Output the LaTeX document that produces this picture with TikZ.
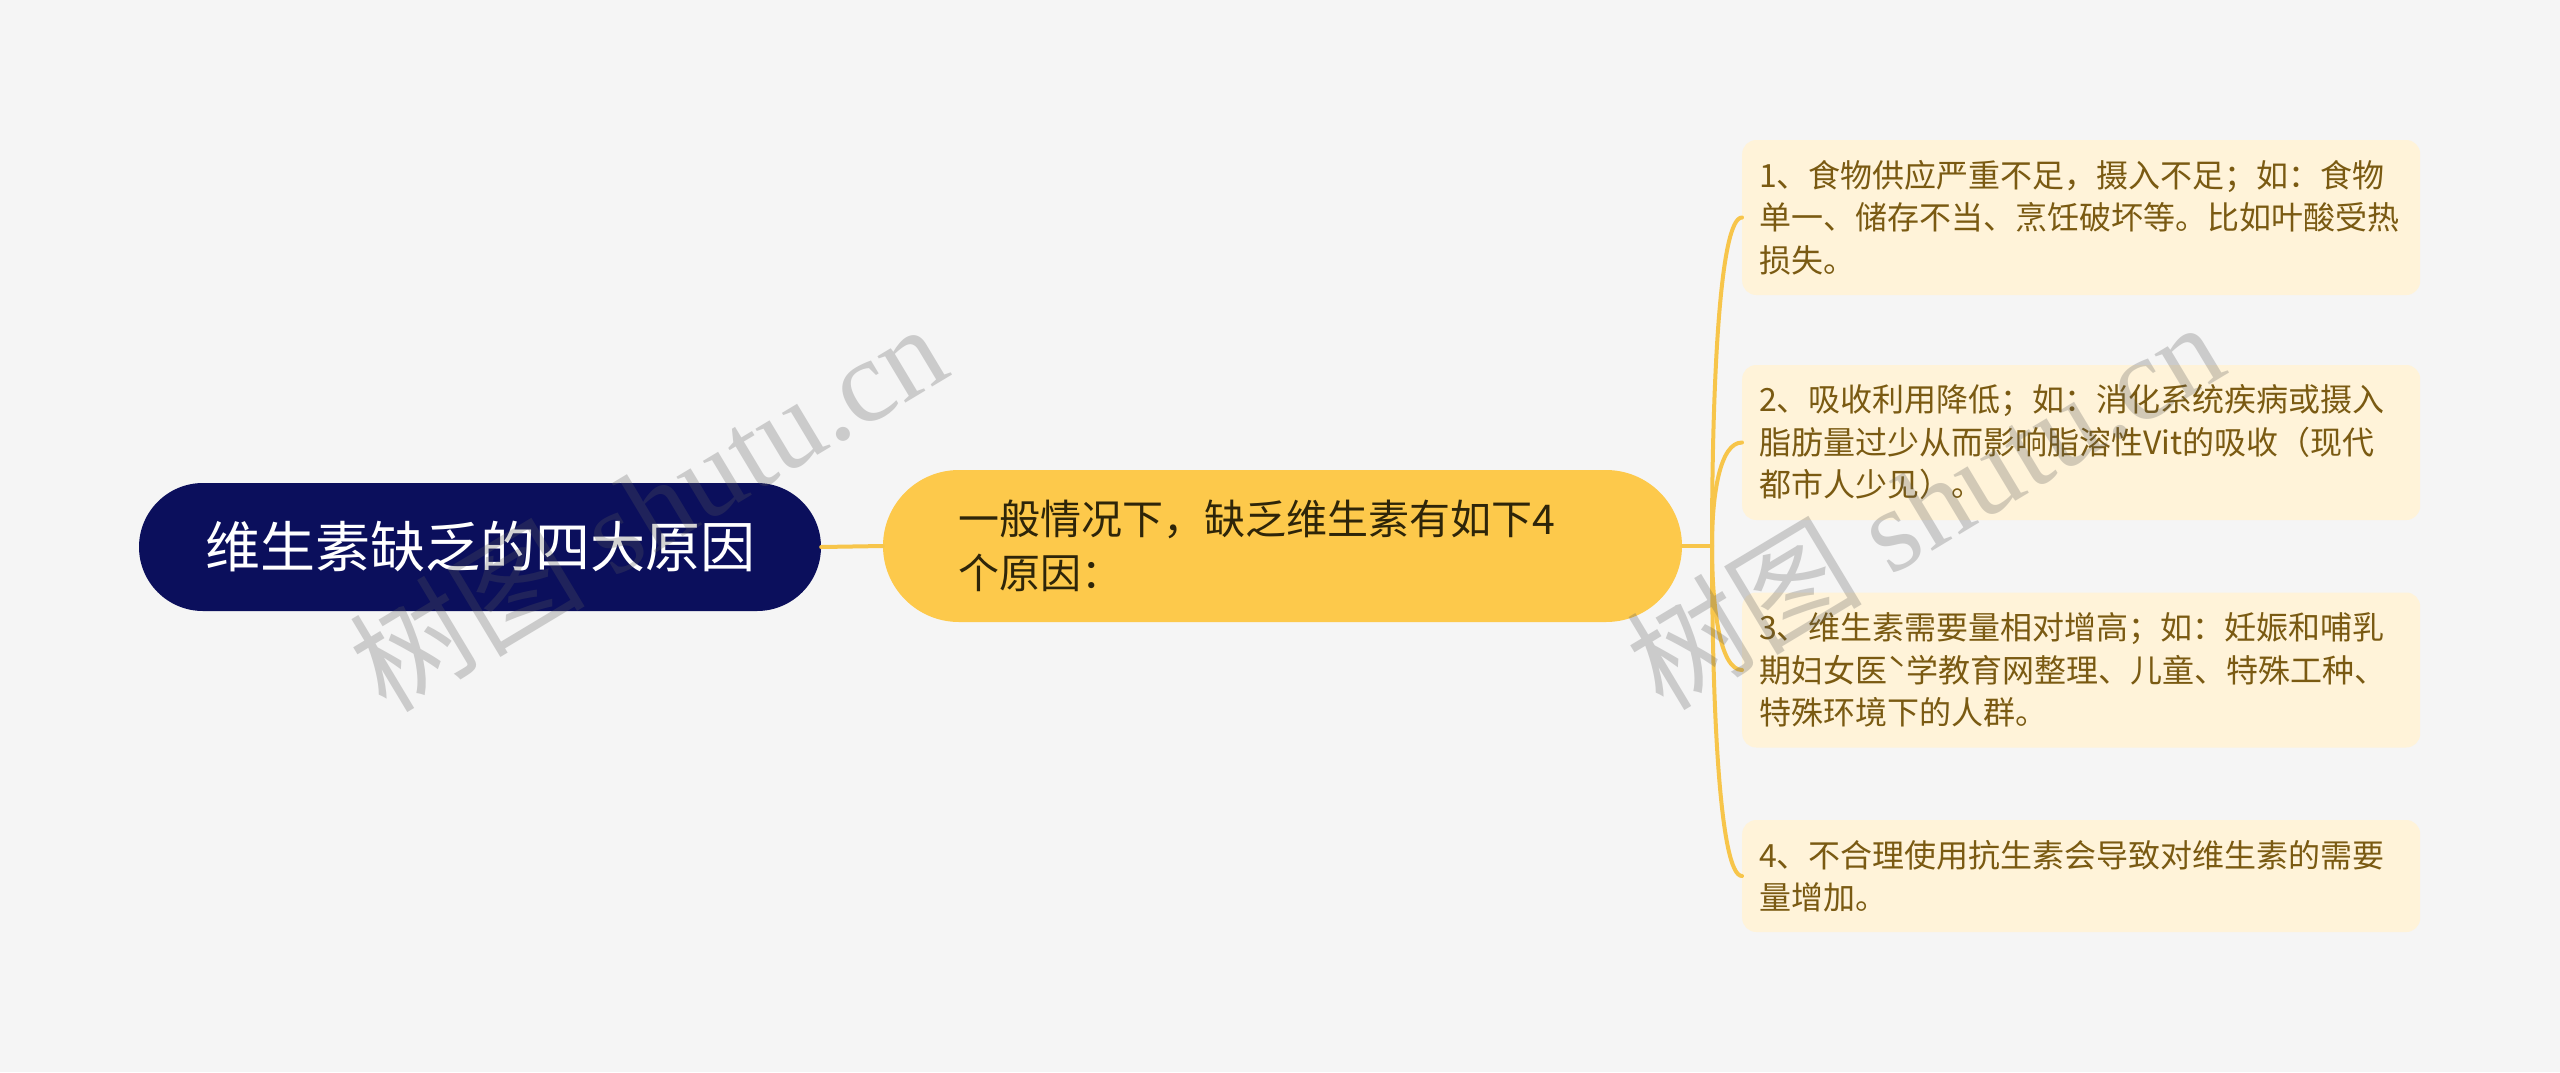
\documentclass[tikz,border=0pt]{standalone}
\usepackage{fontspec}
\newfontfamily\cjk{Noto Sans CJK SC}
\newfontfamily\wmserif{Liberation Serif}
\definecolor{bgc}{HTML}{F5F5F5}
\definecolor{navy}{HTML}{0B0F5C}
\definecolor{midy}{HTML}{FDC94B}
\definecolor{connc}{HTML}{F7C54A}
\definecolor{leaff}{HTML}{FFF3D9}
\definecolor{leaft}{HTML}{7A5A12}
\definecolor{midt}{HTML}{2E2509}
\definecolor{wmc}{HTML}{5A5A5A}
\tikzset{
  rootbox/.style={fill=navy, rounded corners=64pt, minimum width=682pt, minimum height=128pt,
    inner sep=0pt, text=white, font=\cjk\fontsize{55}{66}\selectfont},
  midbox/.style={fill=midy, rounded corners=76pt, minimum width=799pt, minimum height=152pt,
    inner xsep=75pt, inner ysep=0pt, text width=649pt, align=left, text=midt,
    font=\cjk\fontsize{41}{54}\selectfont},
  leafbox/.style={fill=leaff, rounded corners=14pt, inner xsep=17pt, inner ysep=0pt,
    text width=644pt, align=left, text=leaft, anchor=west,
    font=\cjk\fontsize{32}{42.5}\selectfont},
  conn/.style={draw=connc, line width=4pt, line cap=round},
  wm/.style={text=wmc, text opacity=0.27, inner sep=0pt, rotate=31,
    font=\wmserif\fontsize{118}{124}\selectfont}
}
\begin{document}
\begin{tikzpicture}[x=1pt,y=-1pt]
\useasboundingbox (0,0) rectangle (2560,1072);
\fill[bgc] (0,0) rectangle (2560,1072);

\coordinate (br) at (1712,546);

\node[rootbox] (root) at (480,547) {维生素缺乏的四大原因};
\node[midbox] (mid) at (1282.5,546) {一般情况下，缺乏维生素有如下4\\个原因：};

\node[leafbox, minimum height=155pt] (b1) at (1742,217.5) {1、食物供应严重不足，摄入不足；如：食物\\单一、储存不当、烹饪破坏等。比如叶酸受热\\损失。};
\node[leafbox, minimum height=155pt] (b2) at (1742,442.5) {2、吸收利用降低；如：消化系统疾病或摄入\\脂肪量过少从而影响脂溶性Vit的吸收（现代\\都市人少见）。};
\node[leafbox, minimum height=155pt] (b3) at (1742,670) {3、维生素需要量相对增高；如：妊娠和哺乳\\期妇女医ˋ学教育网整理、儿童、特殊工种、\\特殊环境下的人群。};
\node[leafbox, minimum height=112pt] (b4) at (1742,876) {4、不合理使用抗生素会导致对维生素的需要\\量增加。};

\draw[conn] (root.east) -- (mid.west);
\draw[conn] (mid.east) -- (br);
\draw[conn] (br) .. controls (1712,380) and (1720,217.5) .. (b1.west);
\draw[conn] (br) .. controls (1712,494) and (1720,442.5) .. (b2.west);
\draw[conn] (br) .. controls (1712,608) and (1720,670) .. (b3.west);
\draw[conn] (br) .. controls (1712,711) and (1720,876) .. (b4.west);

\node[wm] (wm1) at (647,506) {{\cjk 树图} shutu.cn};
\node[wm] (wm2) at (1924,504) {{\cjk 树图} shutu.cn};
\end{tikzpicture}
\end{document}
